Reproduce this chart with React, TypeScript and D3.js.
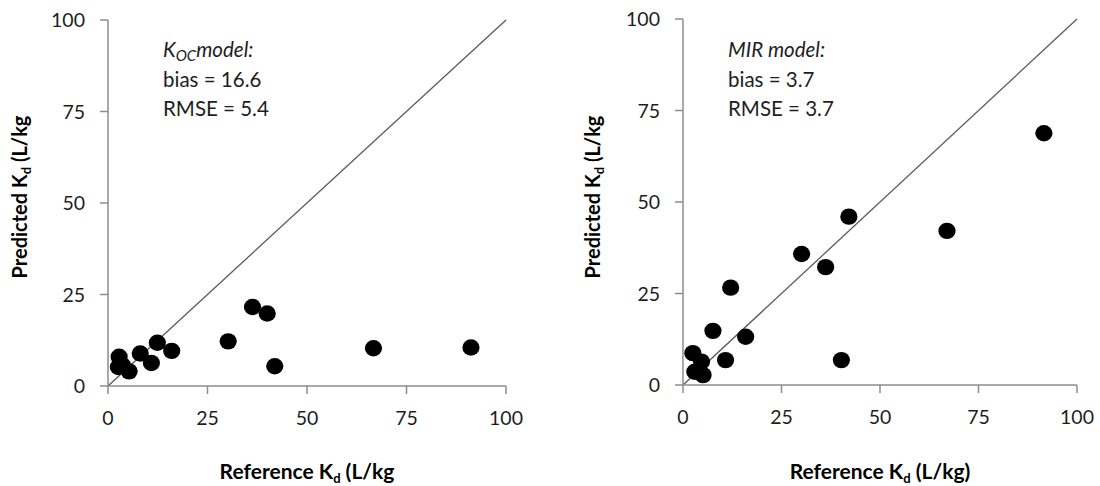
import React from "react";
import * as d3 from "d3";

const tickValues = [0, 25, 50, 75, 100];

const kocRef = [2.8, 2.6, 3.7, 5.3, 8.1, 10.9, 12.4, 16.0, 30.2, 36.3, 40.0, 41.9, 66.7, 91.2];
const kocPred = [8.0, 5.2, 5.6, 4.0, 8.9, 6.3, 11.8, 9.6, 12.2, 21.6, 19.8, 5.4, 10.3, 10.5];

const mirRef = [91.6, 42.1, 67.0, 30.1, 36.2, 12.1, 7.6, 15.9, 10.8, 40.2, 2.5, 4.7, 3.0, 5.1];
const mirPred = [68.8, 46.0, 42.1, 35.8, 32.2, 26.6, 14.8, 13.2, 6.8, 6.8, 8.7, 6.4, 3.6, 2.7];

const FONT = "Lato, 'Open Sans', sans-serif";
const TEXT = "#1e1e1e";

type PanelProps = {
  xr: [number, number];
  yr: [number, number];
  xs: number[];
  ys: number[];
  yTitleX: number;
  xTitle: string;
  ann: React.ReactNode;
};

function Panel({ xr, yr, xs, ys, yTitleX, xTitle, ann }: PanelProps) {
  const x = d3.scaleLinear().domain([0, 100]).range(xr);
  const y = d3.scaleLinear().domain([0, 100]).range(yr);
  const axisColor = "#8c8c8c";
  const cx = (xr[0] + xr[1]) / 2;
  return (
    <g>
      <line x1={x(0)} y1={y(0)} x2={x(100)} y2={y(100)} stroke="#5a5a5a" strokeWidth={1.3} />
      <line x1={x(0)} y1={y(0)} x2={x(0)} y2={y(100)} stroke={axisColor} strokeWidth={1.5} />
      <line x1={x(0)} y1={y(0)} x2={x(100)} y2={y(0)} stroke={axisColor} strokeWidth={1.5} />
      {tickValues.map((t) => (
        <g key={"y" + t}>
          <line x1={x(0) - 8} x2={x(0)} y1={y(t)} y2={y(t)} stroke={axisColor} strokeWidth={1.5} />
          <text x={x(0) - 23} y={y(t)} dy="0.36em" textAnchor="end" fontSize={19.5} fill={TEXT} fontFamily={FONT}>
            {t}
          </text>
        </g>
      ))}
      {tickValues.map((t) => (
        <g key={"x" + t}>
          <line x1={x(t)} x2={x(t)} y1={y(0)} y2={y(0) + 8} stroke={axisColor} strokeWidth={1.5} />
          <text x={x(t)} y={y(0) + 39} textAnchor="middle" fontSize={19.5} fill={TEXT} fontFamily={FONT}>
            {t}
          </text>
        </g>
      ))}
      {xs.map((v, i) => (
        <ellipse key={i} cx={x(v)} cy={y(ys[i])} rx={8.6} ry={8.2} fill="#000" />
      ))}
      <text
        transform={`translate(${yTitleX},197) rotate(-90)`}
        textAnchor="middle"
        fontSize={20}
        fontWeight="bold"
        fill="#000"
        fontFamily={FONT}
      >
        Predicted K<tspan fontSize={13} dy={4}>d</tspan>
        <tspan dy={-4}> (L/kg</tspan>
      </text>
      <text x={cx} y={479} textAnchor="middle" fontSize={21} fontWeight="bold" fill="#000" fontFamily={FONT}>
        Reference K<tspan fontSize={13} dy={4}>d</tspan>
        <tspan dy={-4}>{" " + xTitle}</tspan>
      </text>
      {ann}
    </g>
  );
}

export default function App() {
  const annStyle = { fontFamily: FONT, fontSize: 20.5, fill: TEXT } as const;
  return (
    <svg
      width={1100}
      height={486}
      style={{ position: "absolute", left: 0, top: 0, background: "#fff" }}
    >
      <rect width={1100} height={486} fill="#fff" />
      <Panel
        xr={[108, 506]}
        yr={[386, 20]}
        xs={kocRef}
        ys={kocPred}
        yTitleX={27}
        xTitle="(L/kg"
        ann={
          <g {...annStyle}>
            <text x={163} y={57} fontStyle="italic">
              K<tspan fontSize={15} dy={4}>OC</tspan>
              <tspan dy={-4}>model:</tspan>
            </text>
            <text x={163} y={87}>bias = 16.6</text>
            <text x={163} y={116}>RMSE = 5.4</text>
          </g>
        }
      />
      <Panel
        xr={[683, 1077]}
        yr={[385, 19]}
        xs={mirRef}
        ys={mirPred}
        yTitleX={600}
        xTitle="(L/kg)"
        ann={
          <g {...annStyle}>
            <text x={728} y={57} fontStyle="italic">
              MIR model:
            </text>
            <text x={728} y={87}>bias = 3.7</text>
            <text x={728} y={116}>RMSE = 3.7</text>
          </g>
        }
      />
    </svg>
  );
}
